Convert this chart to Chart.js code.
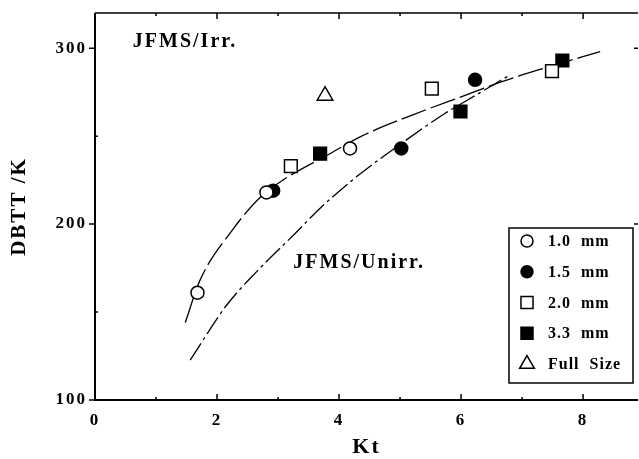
<!DOCTYPE html>
<html lang="en">
<head>
    <meta charset="UTF-8">
    <title>DBTT vs Kt</title>
    <style>
        html, body { margin: 0; padding: 0; background: #fff; overflow: hidden; }
        #wrap { width: 639px; height: 459px; }
    </style>
</head>
<body>
<div id="wrap">
    <canvas id="dbttChart" width="639" height="459"></canvas>
</div>

<script src="https://cdn.jsdelivr.net/npm/chart.js"></script>

<script>
    // Measured points, one pair of arrays per specimen size
    const kt10 = [1.68, 2.81, 4.18];
    const dbtt10 = [161, 218, 243];
    const kt15 = [2.92, 5.02, 6.23];
    const dbtt15 = [219, 243, 282];
    const kt20 = [3.21, 5.52, 7.49];
    const dbtt20 = [233, 277, 287];
    const kt33 = [3.69, 5.99, 7.66];
    const dbtt33 = [240, 264, 293];
    const ktFull = [3.77];
    const dbttFull = [273];

    // Fitted trend curves
    const ktIrrCurve = [1.48, 1.72, 2.26, 2.7, 3.08, 3.85, 4.37, 5.2, 6.13, 6.67, 7.3, 8.28];
    const dbttIrrCurve = [144, 168, 197, 215, 225, 240, 250, 262, 274, 281, 288, 298];
    const ktUnirrCurve = [1.56, 2.16, 2.65, 3.28, 3.69, 4.29, 5.03, 5.74, 6.08, 6.8];
    const dbttUnirrCurve = [122.7, 154, 173, 194.7, 209, 227, 246, 263, 270, 284.7];

    const xTicks = [0, 2, 4, 6, 8];
    const xMinorTicks = [1, 3, 5, 7];
    const yTicks = [100, 200, 300];
    const yMinorTicks = [150, 250];

    const serif = '"Liberation Serif", "Times New Roman", serif';

    function pts(xs, ys) {
        return xs.map((x, i) => ({ x: x, y: ys[i] }));
    }

    function marker(label, xs, ys, style, filled, radius) {
        return {
            label: label,
            data: pts(xs, ys),
            showLine: false,
            pointStyle: style,
            pointRadius: radius,
            pointHoverRadius: radius,
            pointBorderWidth: 1.5,
            pointBorderColor: '#000',
            pointBackgroundColor: filled ? '#000' : '#fff',
            order: 1
        };
    }

    function curve(xs, ys, dash) {
        return {
            label: '',
            data: pts(xs, ys),
            showLine: true,
            borderColor: '#000',
            borderWidth: 1.3,
            borderDash: dash,
            pointRadius: 0,
            cubicInterpolationMode: 'monotone',
            order: 2
        };
    }

    // the scanned figure has widely tracked bold type
    const tracking = {
        id: 'tracking',
        beforeDraw(chart) { chart.ctx.letterSpacing = '2px'; },
        afterDraw(chart) { chart.ctx.letterSpacing = '0px'; }
    };

    // Box, inward ticks, text labels and legend
    const decorations = {
        id: 'decorations',
        afterDatasetsDraw(chart) {
            const ctx = chart.ctx;
            const a = chart.chartArea;
            const xs = chart.scales.x;
            const ys = chart.scales.y;
            ctx.save();
            ctx.strokeStyle = '#000';
            ctx.lineWidth = 1.5;
            ctx.beginPath();
            ctx.moveTo(a.left, a.top);
            ctx.lineTo(a.right, a.top);
            ctx.stroke();
            ctx.lineWidth = 2;
            ctx.beginPath();
            ctx.moveTo(a.left, a.top);
            ctx.lineTo(a.left, a.bottom);
            ctx.lineTo(a.right, a.bottom);
            ctx.stroke();

            ctx.lineWidth = 1.5;
            ctx.beginPath();
            xTicks.forEach(v => {
                const px = xs.getPixelForValue(v);
                ctx.moveTo(px, a.bottom); ctx.lineTo(px, a.bottom - 6);
                ctx.moveTo(px, a.top); ctx.lineTo(px, a.top + 6);
            });
            xMinorTicks.forEach(v => {
                const px = xs.getPixelForValue(v);
                ctx.moveTo(px, a.bottom); ctx.lineTo(px, a.bottom - 3);
                ctx.moveTo(px, a.top); ctx.lineTo(px, a.top + 3);
            });
            yTicks.forEach(v => {
                const py = ys.getPixelForValue(v);
                ctx.moveTo(a.left - 6, py); ctx.lineTo(a.left, py);
                ctx.moveTo(a.right, py); ctx.lineTo(a.right - 4, py);
            });
            yMinorTicks.forEach(v => {
                const py = ys.getPixelForValue(v);
                ctx.moveTo(a.left, py); ctx.lineTo(a.left + 3, py);
            });
            ctx.stroke();

            ctx.fillStyle = '#000';
            ctx.font = 'bold 20px ' + serif;
            ctx.letterSpacing = '2px';
            ctx.textBaseline = 'middle';
            ctx.textAlign = 'left';
            ctx.fillText('JFMS/Irr.', xs.getPixelForValue(0.62), ys.getPixelForValue(303.7));
            ctx.fillText('JFMS/Unirr.', xs.getPixelForValue(3.25), ys.getPixelForValue(177.8));

            // legend box in the lower right corner
            const lx = a.right - 129, ly = a.bottom - 172, lw = 124, lh = 155;
            ctx.lineWidth = 1.5;
            ctx.strokeRect(lx, ly, lw, lh);
            ctx.font = 'bold 16px ' + serif;
            ctx.letterSpacing = '1px';
            const items = chart.data.datasets.filter(d => d.label);
            items.forEach((d, i) => {
                const cy = ly + 13 + i * 30.75;
                ctx.fillStyle = d.pointBackgroundColor;
                ctx.strokeStyle = '#000';
                ctx.lineWidth = 1.5;
                Chart.helpers.drawPoint(ctx, {
                    pointStyle: d.pointStyle,
                    radius: d.pointRadius - 0.5,
                    rotation: 0,
                    borderWidth: 1.5
                }, lx + 18, cy);
                ctx.fillStyle = '#000';
                ctx.fillText(d.label, lx + 39, cy + 1);
            });
            ctx.restore();
        }
    };

    const ctx = document.getElementById('dbttChart').getContext('2d');
    const dbttChart = new Chart(ctx, {
        type: 'scatter',
        data: {
            datasets: [
                marker('1.0  mm', kt10, dbtt10, 'circle', false, 6.5),
                marker('1.5  mm', kt15, dbtt15, 'circle', true, 6.5),
                marker('2.0  mm', kt20, dbtt20, 'rect', false, 9),
                marker('3.3  mm', kt33, dbtt33, 'rect', true, 9),
                marker('Full  Size', ktFull, dbttFull, 'triangle', false, 9),
                curve(ktIrrCurve, dbttIrrCurve, [26, 5]),
                curve(ktUnirrCurve, dbttUnirrCurve, [20, 4, 3, 4])
            ]
        },
        options: {
            responsive: false,
            animation: false,
            layout: { autoPadding: false, padding: { top: 13, right: 1, left: 0, bottom: 0 } },
            plugins: {
                legend: { display: false },
                tooltip: { enabled: false }
            },
            scales: {
                x: {
                    type: 'linear',
                    min: 0,
                    max: 8.9,
                    afterBuildTicks: s => { s.ticks = xTicks.map(v => ({ value: v })); },
                    afterFit: s => { s.height = 59; s.paddingLeft = 0; s.paddingRight = 0; },
                    grid: { display: false, drawTicks: false, tickLength: 0 },
                    border: { display: false },
                    ticks: {
                        color: '#000',
                        padding: 10,
                        font: { family: serif, size: 17, weight: 'bold' }
                    },
                    title: {
                        display: true,
                        text: 'Kt',
                        color: '#000',
                        padding: { top: 0, bottom: -2 },
                        font: { family: serif, size: 22, weight: 'bold' }
                    }
                },
                y: {
                    type: 'linear',
                    min: 100,
                    max: 320,
                    afterBuildTicks: s => { s.ticks = yTicks.map(v => ({ value: v })); },
                    afterFit: s => { s.width = 95; s.paddingTop = 0; s.paddingBottom = 0; },
                    grid: { display: false, drawTicks: false, tickLength: 0 },
                    border: { display: false },
                    ticks: {
                        color: '#000',
                        padding: 8,
                        font: { family: serif, size: 17, weight: 'bold' }
                    },
                    title: {
                        display: true,
                        text: 'DBTT /K',
                        color: '#000',
                        padding: { top: 7, bottom: 0 },
                        font: { family: serif, size: 21, weight: 'bold' }
                    }
                }
            }
        },
        plugins: [tracking, decorations]
    });
</script>
</body>
</html>
